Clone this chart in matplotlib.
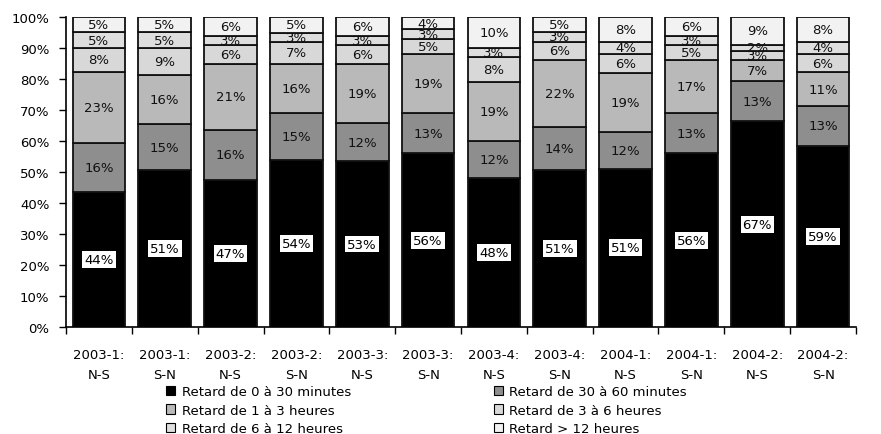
import numpy as np
import matplotlib
matplotlib.use("Agg")
import matplotlib.pyplot as plt
from matplotlib.patches import Patch

plt.rcParams['font.family'] = ['DejaVu Sans']

categories = ["2003-1:\nN-S", "2003-1:\nS-N", "2003-2:\nN-S", "2003-2:\nS-N",
              "2003-3:\nN-S", "2003-3:\nS-N", "2003-4:\nN-S", "2003-4:\nS-N",
              "2004-1:\nN-S", "2004-1:\nS-N", "2004-2:\nN-S", "2004-2:\nS-N"]

series_names = ["Retard de 0 à 30 minutes", "Retard de 30 à 60 minutes",
                "Retard de 1 à 3 heures", "Retard de 3 à 6 heures",
                "Retard de 6 à 12 heures", "Retard > 12 heures"]

r_0_30 = [44, 51, 47, 54, 53, 56, 48, 51, 51, 56, 67, 59]
r_30_60 = [16, 15, 16, 15, 12, 13, 12, 14, 12, 13, 13, 13]
r_1_3 = [23, 16, 21, 16, 19, 19, 19, 22, 19, 17, 7, 11]
r_3_6 = [8, 9, 6, 7, 6, 5, 8, 6, 6, 5, 3, 6]
r_6_12 = [5, 5, 3, 3, 3, 3, 3, 3, 4, 3, 2, 4]
r_12 = [5, 5, 6, 5, 6, 4, 10, 5, 8, 6, 9, 8]

colors = ["#000000", "#8e8e8e", "#b9b9b9", "#d8d8d8", "#dedede", "#f2f2f2"]

data = np.array([r_0_30, r_30_60, r_1_3, r_3_6, r_6_12, r_12], dtype=float)
# 100% stacked: each column scaled to its total
shares = data / data.sum(axis=0) * 100

fig = plt.figure(figsize=(8.81, 4.35), dpi=100)
ax = fig.add_axes([66 / 881, 1 - 328 / 435, 790 / 881, 310 / 435])

x = np.arange(len(categories))
bottom = np.zeros(len(categories))
for i, (name, col) in enumerate(zip(series_names, colors)):
    ax.bar(x, shares[i], width=0.8, bottom=bottom, color=col,
           edgecolor="#111111", linewidth=1.3, label=name, zorder=2)
    for j in range(len(categories)):
        yc = bottom[j] + shares[i][j] / 2
        txt = f"{int(data[i][j])}%"
        if i == 0:
            ax.text(x[j], yc, txt, ha="center", va="center", fontsize=9.5,
                    color="black", zorder=3,
                    bbox=dict(boxstyle="square,pad=0.15", fc="white", ec="none"))
        else:
            ax.text(x[j], yc, txt, ha="center", va="center", fontsize=9.5,
                    color="#111111", zorder=3)
    bottom += shares[i]

ax.set_xlim(-0.5, len(categories) - 0.5)
ax.set_ylim(0, 100)
ax.set_yticks(np.arange(0, 101, 10))
ax.set_yticklabels([f"{v}%" for v in range(0, 101, 10)], fontsize=9.5)
ax.set_xticks(x)
ax.set_xticklabels(categories, fontsize=9.5, linespacing=1.7)
ax.set_xticks(np.arange(-0.5, len(categories), 1), minor=True)
ax.tick_params(axis="x", which="major", length=0, pad=15)
ax.tick_params(axis="x", which="minor", length=5, width=1, color="black")
ax.tick_params(axis="y", length=5, width=1, color="black", pad=7)

for s in ["top", "right"]:
    ax.spines[s].set_visible(False)
for s in ["left", "bottom"]:
    ax.spines[s].set_color("black")
    ax.spines[s].set_linewidth(1.2)

handles = [Patch(facecolor=c, edgecolor="black", linewidth=0.8, label=n)
           for n, c in zip(series_names, colors)]
order = [0, 2, 4, 1, 3, 5]
fig.legend([handles[k] for k in order], [series_names[k] for k in order],
           ncol=2, loc="upper left", bbox_to_anchor=(166 / 881, 1 - 386 / 435),
           frameon=False, fontsize=9.5, handlelength=0.7, handleheight=0.7,
           handletextpad=0.5, columnspacing=10.8, labelspacing=0.42,
           borderpad=0, borderaxespad=0)

fig.savefig("out.png", dpi=100)
